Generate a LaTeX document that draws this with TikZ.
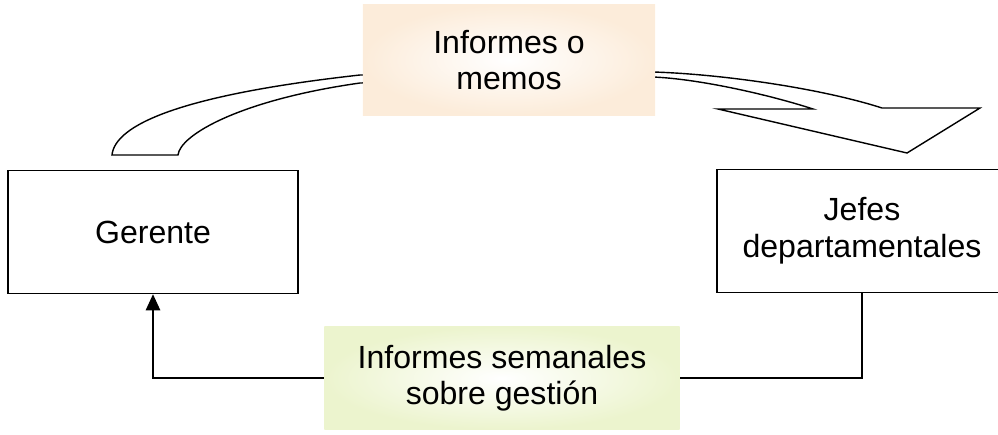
\documentclass[tikz,border=0pt]{standalone}
\usepackage{fontspec}
\setmainfont{Liberation Sans}
\usetikzlibrary{arrows.meta, positioning, calc}

\begin{document}
\begin{tikzpicture}[x=0.025cm, y=-0.025cm, line width=0.9pt,
  box/.style={draw, minimum width=7.25cm, minimum height=3.08cm, inner sep=0pt,
    align=center, font=\fontsize{22.8}{26}\selectfont},
  tag/.style={minimum width=7.3cm, minimum height=2.75cm, inner sep=0pt,
    align=center, font=\fontsize{22.8}{26}\selectfont},
  flow/.style={-{Triangle[length=4mm, width=3.6mm]}}]
  % Page
  \useasboundingbox (0,0) rectangle (998,434);
  \clip (0,0) rectangle (998,434);

  % Curved band arrow (behind the top label)
  \draw[fill=white, line width=1pt, line join=miter]
    (112,155) .. controls (115,125) and (180,95) .. (360,75)
    -- (653,72) .. controls (720,74) and (820,88) .. (882,108)
    -- (980,108) -- (907,153) -- (718,109) -- (813,109)
    .. controls (770,95) and (700,79) .. (653,77)
    -- (360,83) .. controls (240,100) and (180,135) .. (178,155)
    -- cycle;

  % Boxes
  \node[box] (gerente) at (153,232) {Gerente};
  \node[box] (jefes) at (862,231) {Jefes\\departamentales};

  % Labels
  \node[tag, shading=radial, inner color=white,
    outer color={rgb,255:red,252;green,236;blue,218}]
    (memos) at (509,60) {Informes o\\memos};
  \node[tag, minimum width=8.88cm, minimum height=2.58cm, shading=radial,
    inner color=white, outer color={rgb,255:red,236;green,244;blue,206}]
    (gestion) at (502,378) {Informes semanales\\sobre gestión};

  % Connectors
  \draw (jefes.south) |- (gestion.east);
  \draw[flow] (gestion.west) -| (gerente.south);
\end{tikzpicture}
\end{document}
